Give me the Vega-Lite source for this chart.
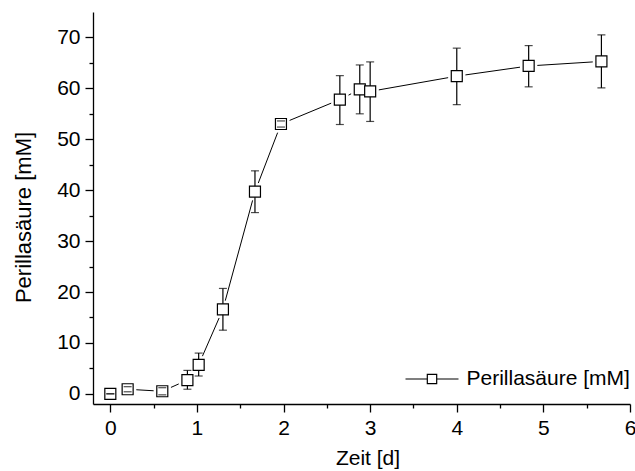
{
  "$schema": "https://vega.github.io/schema/vega-lite/v6.json",
  "width": 537,
  "height": 392,
  "autosize": {"type": "none"},
  "padding": {"left": 93, "top": 12, "right": 5, "bottom": 67},
  "background": "white",
  "config": {
    "view": {"stroke": null},
    "font": "Liberation Sans",
    "axis": {
      "labelFont": "Liberation Sans",
      "titleFont": "Liberation Sans",
      "labelFontSize": 21,
      "titleFontSize": 21,
      "titleFontWeight": "normal",
      "labelColor": "black",
      "titleColor": "black",
      "domainColor": "black",
      "tickColor": "black",
      "domainWidth": 1.3,
      "tickWidth": 1.3,
      "grid": false,
      "labelFlush": false,
      "labelOverlap": false
    }
  },
  "resolve": {"axis": {"x": "independent", "y": "independent"}},
  "data": {
    "values": [
      {"t": 0, "c": 0, "lo": 0, "hi": 0},
      {"t": 0.2, "c": 0.9, "lo": 0.4, "hi": 1.4},
      {"t": 0.6, "c": 0.5, "lo": -0.2, "hi": 1.2},
      {"t": 0.89, "c": 2.7, "lo": 0.9, "hi": 4.6},
      {"t": 1.02, "c": 5.7, "lo": 3.5, "hi": 8.0},
      {"t": 1.3, "c": 16.6, "lo": 12.5, "hi": 20.7},
      {"t": 1.67, "c": 39.7, "lo": 35.6, "hi": 43.8},
      {"t": 1.97, "c": 53.0, "lo": 52.4, "hi": 53.6},
      {"t": 2.65, "c": 57.8, "lo": 52.9, "hi": 62.5},
      {"t": 2.88, "c": 59.8, "lo": 55.0, "hi": 64.6},
      {"t": 3.0, "c": 59.4, "lo": 53.5, "hi": 65.2},
      {"t": 4.0, "c": 62.4, "lo": 56.8, "hi": 67.9},
      {"t": 4.83, "c": 64.4, "lo": 60.3, "hi": 68.4},
      {"t": 5.67, "c": 65.3, "lo": 60.1, "hi": 70.5}
    ]
  },
  "layer": [
    {
      "mark": {"type": "line", "color": "black", "strokeWidth": 1},
      "encoding": {
        "x": {
          "field": "t",
          "type": "quantitative",
          "title": "Zeit [d]",
          "scale": {"domain": [-0.2, 6], "nice": false, "zero": false},
          "axis": {
            "orient": "bottom",
            "values": [0, 1, 2, 3, 4, 5, 6],
            "format": "d",
            "tickSize": 8,
            "labelPadding": 5,
            "titlePadding": 9,
            "titleX": 274.5
          }
        },
        "y": {
          "field": "c",
          "type": "quantitative",
          "title": "Perillasäure [mM]",
          "scale": {"domain": [-2, 75], "nice": false, "zero": false},
          "axis": {
            "orient": "left",
            "values": [0, 10, 20, 30, 40, 50, 60, 70],
            "tickSize": 8,
            "labelPadding": 5,
            "titlePadding": 21,
            "titleFontSize": 22,
            "titleY": 205
          }
        }
      }
    },
    {
      "mark": {"type": "point", "shape": "square", "filled": true, "color": "white", "opacity": 1, "size": 300},
      "encoding": {
        "x": {
          "field": "t",
          "type": "quantitative",
          "axis": {
            "orient": "bottom",
            "values": [0.5, 1.5, 2.5, 3.5, 4.5, 5.5],
            "tickSize": 4,
            "labels": false,
            "domain": false,
            "title": null
          }
        },
        "y": {
          "field": "c",
          "type": "quantitative",
          "axis": {
            "orient": "left",
            "values": [5, 15, 25, 35, 45, 55, 65],
            "tickSize": 4,
            "labels": false,
            "domain": false,
            "title": null
          }
        }
      }
    },
    {
      "mark": {"type": "rule", "color": "black", "strokeWidth": 1.2},
      "encoding": {
        "x": {"field": "t", "type": "quantitative", "axis": null},
        "y": {"field": "lo", "type": "quantitative", "axis": null},
        "y2": {"field": "hi"}
      }
    },
    {
      "mark": {"type": "point", "shape": "square", "filled": true, "fill": "white", "size": 121, "strokeWidth": 1.2, "opacity": 1},
      "encoding": {
        "x": {"field": "t", "type": "quantitative", "axis": null},
        "y": {"field": "c", "type": "quantitative", "axis": null},
        "stroke": {
          "datum": "Perillasäure [mM]",
          "scale": {"range": ["black"]},
          "legend": {
            "title": null,
            "orient": "none",
            "legendX": 311.5,
            "legendY": 339.5,
            "padding": 0,
            "symbolType": "M-1,0H-0.177M0.177,0H1M-0.177,-0.177H0.177V0.177H-0.177Z",
            "symbolSize": 2809,
            "symbolFillColor": "white",
            "symbolStrokeColor": "black",
            "symbolStrokeWidth": 1.2,
            "symbolOpacity": 1,
            "labelFont": "Liberation Sans",
            "labelFontSize": 21,
            "labelColor": "black",
            "labelOffset": 7,
            "labelLimit": 400
          }
        }
      }
    },
    {
      "mark": {"type": "tick", "orient": "horizontal", "color": "black", "size": 8, "thickness": 1.2},
      "encoding": {
        "x": {"field": "t", "type": "quantitative", "axis": null},
        "y": {"field": "lo", "type": "quantitative", "axis": null}
      }
    },
    {
      "mark": {"type": "tick", "orient": "horizontal", "color": "black", "size": 8, "thickness": 1.2},
      "encoding": {
        "x": {"field": "t", "type": "quantitative", "axis": null},
        "y": {"field": "hi", "type": "quantitative", "axis": null}
      }
    }
  ]
}
